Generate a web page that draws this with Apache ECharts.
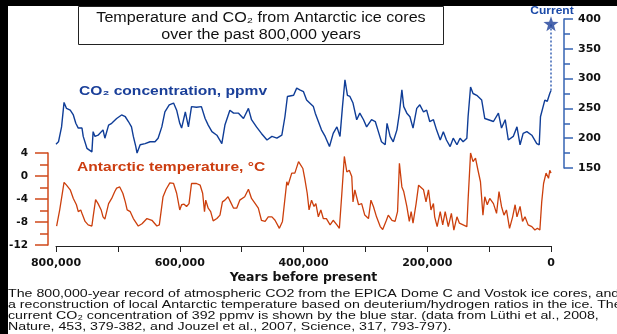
<!DOCTYPE html>
<html><head><meta charset="utf-8">
<script src="https://cdn.jsdelivr.net/npm/echarts@6/dist/echarts.min.js"></script>
<style>html,body{margin:0;padding:0;background:#fff}#c{width:617px;height:334px}</style>
</head><body><div id="c"></div>
<script>
// Ages in thousands of years before present
const co2Age = [800,796,791,787,783,777,772,768,764,758,756,750,742,740,737,732,724,721,715,710,702,694,688,683,678,675,671,669,664,656,648,640,635,629,624,617,610,605,600,597,591,589,586,581,573,565,559,554,548,540,532,527,519,513,505,497,489,484,476,468,459,451,443,435,430,426,416,411,406,400,395,390,384,381,376,371,365,358,352,346,341,337,333,329,325,320,317,314,309,303,298,290,284,279,274,268,265,260,255,249,245,241,238,233,228,223,217,212,206,201,196,190,185,179,174,169,163,158,152,147,142,136,134,130,126,120,112,107,101,93,85,80,74,69,61,55,50,45,39,31,23,19,17,10,6,2,0];
const co2Val = [190,194,219,260,250,247,239,225,217,217,203,183,177,211,203,205,214,200,222,225,233,239,236,228,219,203,186,175,189,191,194,194,200,219,244,256,259,247,225,217,244,247,219,253,252,253,233,222,211,205,191,222,247,242,242,233,250,231,219,208,197,203,200,205,236,270,272,284,281,278,264,259,253,242,228,214,203,186,208,219,203,253,298,272,270,259,256,231,242,231,219,231,228,211,194,189,225,203,194,214,242,281,253,242,236,217,250,256,244,247,228,231,214,197,211,197,186,200,189,200,194,200,236,286,275,272,264,233,231,228,242,217,231,197,203,219,189,208,211,205,191,189,236,264,262,275,280];
const tempAge = [799,794,787,783,777,772,767,764,760,757,753,748,742,740,736,732,727,724,721,715,710,705,702,697,692,688,685,680,675,667,661,653,645,637,633,627,622,616,610,605,600,597,593,589,585,581,573,567,563,560,558,554,550,546,540,535,531,527,522,518,513,508,503,495,489,484,478,473,468,462,457,451,446,439,434,427,425,419,414,408,406,401,398,394,391,387,383,380,376,372,368,363,357,352,346,342,338,334,330,326,322,320,317,311,306,301,295,291,287,282,276,272,266,263,257,252,248,245,241,238,233,229,226,223,218,214,211,206,202,198,194,190,188,184,179,175,171,166,161,157,152,148,142,136,134,130,126,122,118,114,110,107,103,99,93,88,84,80,76,72,67,62,58,55,50,46,42,37,31,26,22,18,15,12,8,4,2,0];
const tempVal = [-8.7,-5.9,-1.1,-1.6,-2.4,-3.9,-5.0,-6.2,-5.9,-6.8,-7.9,-8.5,-8.7,-7.1,-4.1,-4.8,-5.9,-7.1,-7.5,-4.8,-3.9,-2.7,-2.1,-1.9,-3.0,-4.5,-5.9,-6.2,-7.4,-8.7,-8.3,-7.4,-7.7,-8.7,-8.5,-3.6,-2.3,-1.2,-1.3,-3.0,-5.9,-5.0,-4.9,-5.3,-4.8,-1.3,-1.3,-1.6,-3.0,-6.2,-4.2,-5.6,-6.2,-7.8,-7.4,-6.8,-4.5,-4.2,-3.6,-4.5,-5.6,-5.6,-4.2,-3.6,-2.3,-3.9,-4.8,-5.6,-7.7,-7.9,-7.1,-7.1,-7.7,-9.1,-7.9,-1.0,-1.6,0.5,0.5,2.5,2.3,1.3,-0.4,-3.0,-5.9,-4.2,-5.3,-4.8,-7.1,-5.9,-7.4,-7.4,-8.5,-7.7,-8.5,-9.1,-3.0,3.4,0.7,1.0,-0.1,-4.5,-2.4,-5.0,-4.8,-6.8,-7.4,-4.2,-5.3,-7.1,-8.8,-9.3,-7.7,-6.8,-7.7,-7.9,-6.2,2.2,-1.9,-2.7,-5.3,-7.9,-6.2,-8.2,-4.8,-1.6,-1.3,-2.4,-4.5,-2.4,-5.9,-4.8,-7.1,-8.8,-6.2,-8.5,-6.2,-8.8,-6.5,-9.4,-7.1,-8.2,-8.5,-8.8,-4.2,4.0,2.5,3.1,1.0,-1.0,-6.8,-3.6,-5.0,-3.9,-4.8,-6.5,-2.7,-5.3,-6.8,-5.9,-9.1,-7.1,-5.0,-7.1,-5.3,-7.9,-7.1,-8.5,-8.8,-9.4,-9.1,-9.4,-4.5,-1.3,0.5,-0.4,1.0,0.5];
const currentCO2 = [[0, 392]];
const currentLine = [[0, 280], [0, 392]];

const co2Color = '#0f3d97';
const tempColor = '#cc3f0c';
const sans = '"Liberation Sans", Arial, sans-serif';
const wide = '"DejaVu Sans", sans-serif';

const chart = echarts.init(document.getElementById('c'), null, {renderer: 'canvas'});
const fmtX = v => v === 0 ? '0' : (v + ',000');

chart.setOption({
  animation: false,
  backgroundColor: '#fff',
  grid: [
    {left: 56, right: 66, top: 19, height: 149},
    {left: 56, right: 66, top: 153, height: 92}
  ],
  xAxis: [
    {gridIndex: 0, type: 'value', min: 0, max: 800, inverse: true, show: false},
    {gridIndex: 1, type: 'value', min: 0, max: 800, interval: 200, inverse: true, offset: 1,
     axisLine: {show: true, onZero: false, lineStyle: {color: '#222', width: 1}},
     axisTick: {show: true, length: 6, lineStyle: {color: '#222'}},
     minorTick: {show: true, splitNumber: 2, length: 6, lineStyle: {color: '#222'}},
     splitLine: {show: false},
     axisLabel: {margin: 12, color: '#111', fontFamily: wide, fontWeight: 'bold', fontSize: 11, formatter: fmtX},
     name: 'Years before present', nameLocation: 'middle', nameGap: 25,
     nameTextStyle: {color: '#111', fontFamily: wide, fontWeight: 'bold', fontSize: 12.5}}
  ],
  yAxis: [
    {gridIndex: 0, type: 'value', min: 150, max: 400, interval: 50, position: 'right', offset: 13,
     axisLine: {show: true, onZero: false, lineStyle: {color: '#3563b3', width: 1.5}},
     axisTick: {show: true, length: 9, lineStyle: {color: '#3563b3', width: 1.5}},
     minorTick: {show: true, splitNumber: 2, length: 6, lineStyle: {color: '#3563b3', width: 1.5}},
     splitLine: {show: false},
     axisLabel: {margin: 14, color: '#111', fontFamily: wide, fontWeight: 'bold', fontSize: 11}},
    {gridIndex: 1, type: 'value', min: -12, max: 4, interval: 4, position: 'left', offset: 8,
     axisLine: {show: true, onZero: false, lineStyle: {color: '#d0481a', width: 1.5}},
     axisTick: {show: true, length: 13, lineStyle: {color: '#d0481a', width: 1.5}},
     minorTick: {show: true, splitNumber: 2, length: 8, lineStyle: {color: '#d0481a', width: 1.5}},
     splitLine: {show: false},
     axisLabel: {margin: 20, color: '#111', fontFamily: wide, fontWeight: 'bold', fontSize: 10.5}}
  ],
  series: [
    {type: 'line', xAxisIndex: 0, yAxisIndex: 0, showSymbol: false, clip: false,
     data: co2Age.map((a, i) => [a, co2Val[i]]), lineStyle: {color: co2Color, width: 1.4}},
    {type: 'line', xAxisIndex: 1, yAxisIndex: 1, showSymbol: false, clip: false,
     data: tempAge.map((a, i) => [a, tempVal[i]]), lineStyle: {color: tempColor, width: 1.3}},
    {type: 'line', xAxisIndex: 0, yAxisIndex: 0, showSymbol: false, clip: false,
     data: currentLine, lineStyle: {color: '#3a64b5', width: 1.5, type: [2, 2]}},
    {type: 'scatter', xAxisIndex: 0, yAxisIndex: 0, clip: false, data: currentCO2,
     symbol: 'path://M0,-10L2.35,-3.24L9.51,-3.09L3.8,1.24L5.88,8.09L0,4L-5.88,8.09L-3.8,1.24L-9.51,-3.09L-2.35,-3.24Z',
     symbolSize: 15, itemStyle: {color: '#1b3f99'}, z: 5}
  ],
  graphic: [
    {type: 'rect', shape: {x: 0, y: 0, width: 8, height: 334}, style: {fill: '#000'}, silent: true},
    {type: 'rect', shape: {x: 0, y: 0, width: 617, height: 6}, style: {fill: '#000'}, silent: true},
    {type: 'rect', shape: {x: 78.5, y: 6.5, width: 365, height: 38}, style: {fill: '#fff', stroke: '#222', lineWidth: 1}},
    {type: 'text', x: 261, y: 18, scaleX: 1.15, style: {text: 'Temperature and CO₂ from Antarctic ice cores', font: '14px ' + sans, fill: '#111', textAlign: 'center', textVerticalAlign: 'middle'}},
    {type: 'text', x: 261, y: 35, scaleX: 1.15, style: {text: 'over the past 800,000 years', font: '14px ' + sans, fill: '#111', textAlign: 'center', textVerticalAlign: 'middle'}},
    {type: 'text', x: 552, y: 11, scaleX: 1.2, style: {text: 'Current', font: 'bold 10px ' + sans, fill: '#1b4aa8', textAlign: 'center', textVerticalAlign: 'middle'}},
    {type: 'text', x: 79, y: 92, scaleX: 1.3, style: {text: 'CO₂ concentration, ppmv', font: 'bold 12px ' + sans, fill: '#1a3f99', textAlign: 'left', textVerticalAlign: 'middle'}},
    {type: 'text', x: 77, y: 168, scaleX: 1.3, style: {text: 'Antarctic temperature, °C', font: 'bold 12px ' + sans, fill: '#cc3d10', textAlign: 'left', textVerticalAlign: 'middle'}},
    {type: 'text', x: 8, y: 294, scaleX: 1.29, style: {text: 'The 800,000-year record of atmospheric CO2 from the EPICA Dome C and Vostok ice cores, and', font: '11px ' + sans, fill: '#111', textAlign: 'left', textVerticalAlign: 'middle'}},
    {type: 'text', x: 8, y: 305, scaleX: 1.29, style: {text: 'a reconstruction of local Antarctic temperature based on deuterium/hydrogen ratios in the ice. The', font: '11px ' + sans, fill: '#111', textAlign: 'left', textVerticalAlign: 'middle'}},
    {type: 'text', x: 8, y: 316, scaleX: 1.29, style: {text: 'current CO₂ concentration of 392 ppmv is shown by the blue star. (data from Lüthi et al., 2008,', font: '11px ' + sans, fill: '#111', textAlign: 'left', textVerticalAlign: 'middle'}},
    {type: 'text', x: 8, y: 327, scaleX: 1.29, style: {text: 'Nature, 453, 379-382, and Jouzel et al., 2007, Science, 317, 793-797).', font: '11px ' + sans, fill: '#111', textAlign: 'left', textVerticalAlign: 'middle'}}
  ]
});
</script></body></html>
